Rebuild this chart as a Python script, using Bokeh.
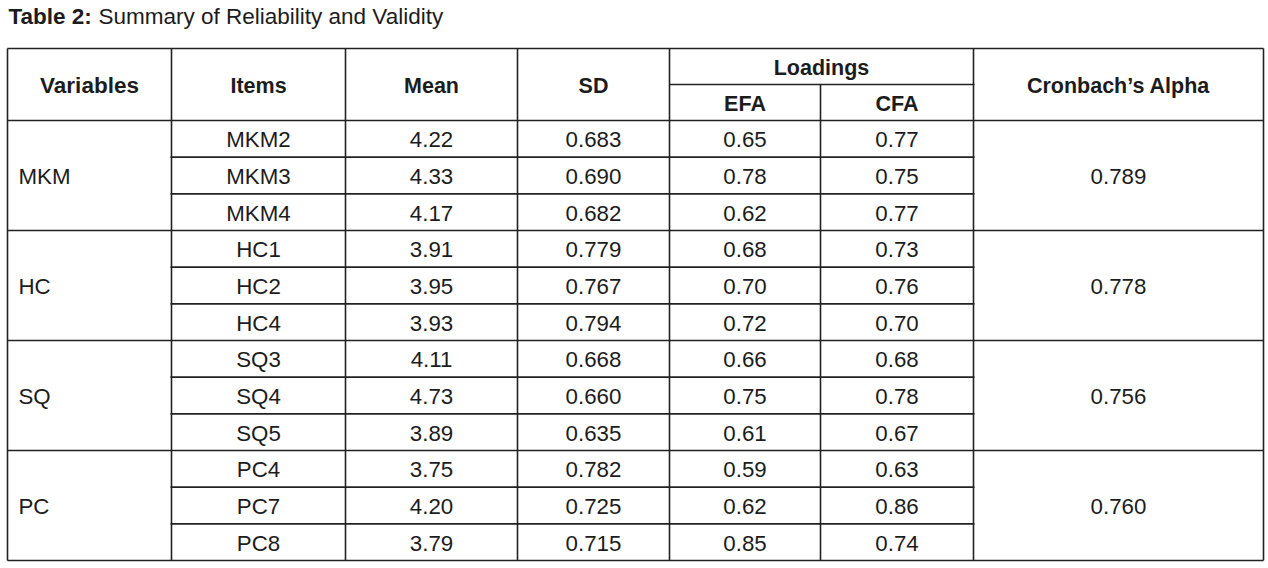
from bokeh.plotting import figure
from bokeh.models import Range1d
from bokeh.core.properties import value
from bokeh.embed import file_html
from bokeh.resources import INLINE

# ---- data ----
variables = ["MKM", "HC", "SQ", "PC"]
items = ["MKM2", "MKM3", "MKM4", "HC1", "HC2", "HC4",
         "SQ3", "SQ4", "SQ5", "PC4", "PC7", "PC8"]
means = [4.22, 4.33, 4.17, 3.91, 3.95, 3.93, 4.11, 4.73, 3.89, 3.75, 4.20, 3.79]
sds = [0.683, 0.690, 0.682, 0.779, 0.767, 0.794, 0.668, 0.660, 0.635, 0.782, 0.725, 0.715]
efa = [0.65, 0.78, 0.62, 0.68, 0.70, 0.72, 0.66, 0.75, 0.61, 0.59, 0.62, 0.85]
cfa = [0.77, 0.75, 0.77, 0.73, 0.76, 0.70, 0.68, 0.78, 0.67, 0.63, 0.86, 0.74]
alpha = [0.789, 0.778, 0.756, 0.760]
items_per_var = 3

title_bold = "Table 2:"
title_rest = "Summary of Reliability and Validity"
headers = ["Variables", "Items", "Mean", "SD", "Loadings", "EFA", "CFA", "Cronbach\u2019s Alpha"]

# ---- layout ----
W, H = 1268, 568
cols = [7, 171, 345, 517, 669, 820, 973, 1263]
top, mid, hbot, bottom = 48, 84, 120, 560
n = len(items)
rh = (bottom - hbot) / n
FONT = "Liberation Sans"
TC = "#1c1c1c"
LC = "#222222"

p = figure(width=W, height=H, x_range=Range1d(0, W), y_range=Range1d(H, 0),
           output_backend="svg", toolbar_location=None, min_border=0,
           min_border_left=0, min_border_right=0, min_border_top=0, min_border_bottom=0)
p.axis.visible = False
p.grid.visible = False
p.outline_line_color = None
p.background_fill_color = "white"
p.border_fill_color = "white"

# ---- grid lines ----
x0, y0, x1, y1 = [], [], [], []
def seg(a, b, c, d):
    x0.append(a); y0.append(b); x1.append(c); y1.append(d)

seg(cols[0], top, cols[-1], top)
seg(cols[0], hbot, cols[-1], hbot)
seg(cols[4], mid, cols[6] + 1, mid)
ng = len(variables)
for g in range(ng):
    gy = hbot + (g + 1) * items_per_var * rh
    seg(cols[0], gy, cols[-1], gy)
    for k in range(1, items_per_var):
        ry = hbot + (g * items_per_var + k) * rh
        seg(cols[1] - 1, ry, cols[6] + 1, ry)
for i, cx in enumerate(cols):
    if i == 5:
        seg(cx, mid, cx, bottom)
    else:
        seg(cx, top, cx, bottom)
p.segment(x0, y0, x1, y1, line_color=LC, line_width=1.6)

# ---- title ----
p.text([8], [16], text=[title_bold], text_font=value(FONT), text_font_style="bold",
       text_font_size="22.5px", text_color=TC, text_baseline="middle", text_align="left")
p.text([98], [16], text=[title_rest], text_font=value(FONT),
       text_font_size="22.5px", text_color=TC, text_baseline="middle", text_align="left")

# ---- headers ----
def cen(a, b):
    return (a + b) / 2

hx = [cen(cols[0], cols[1])]
hy = [cen(top, hbot) + 1]
p.text(hx, hy, text=[headers[0]], text_font=value(FONT), text_font_style="bold",
       text_font_size="22.5px", text_color=TC, text_baseline="middle", text_align="center")
hx = [cen(cols[1], cols[2]), cen(cols[2], cols[3]), cen(cols[3], cols[4]),
      cen(cols[4], cols[6]), cen(cols[4], cols[5]), cen(cols[5], cols[6]), cen(cols[6], cols[7])]
hy = [cen(top, hbot) + 1, cen(top, hbot) + 1, cen(top, hbot) + 1,
      cen(top, mid) + 1, cen(mid, hbot) + 1, cen(mid, hbot) + 1, cen(top, hbot) + 1]
p.text(hx, hy, text=headers[1:], text_font=value(FONT), text_font_style="bold",
       text_font_size="21.5px", text_color=TC, text_baseline="middle", text_align="center")

# ---- body ----
ry = [hbot + (i + 0.5) * rh + 1 for i in range(n)]
body_x, body_y, body_t = [], [], []
for i in range(n):
    vals = [items[i], f"{means[i]:.2f}", f"{sds[i]:.3f}", f"{efa[i]:.2f}", f"{cfa[i]:.2f}"]
    for c, t in enumerate(vals):
        body_x.append(cen(cols[c + 1], cols[c + 2]))
        body_y.append(ry[i])
        body_t.append(t)
for g in range(ng):
    gy = hbot + (g + 0.5) * items_per_var * rh + 1
    body_x.append(cen(cols[6], cols[7])); body_y.append(gy); body_t.append(f"{alpha[g]:.3f}")
p.text(body_x, body_y, text=body_t, text_font=value(FONT), text_font_size="22.3px",
       text_color=TC, text_baseline="middle", text_align="center")

vy = [hbot + (g + 0.5) * items_per_var * rh + 1 for g in range(ng)]
p.text([18] * ng, vy, text=variables, text_font=value(FONT), text_font_size="22.3px",
       text_color=TC, text_baseline="middle", text_align="left")

open("out.html", "w").write(file_html(p, INLINE))
